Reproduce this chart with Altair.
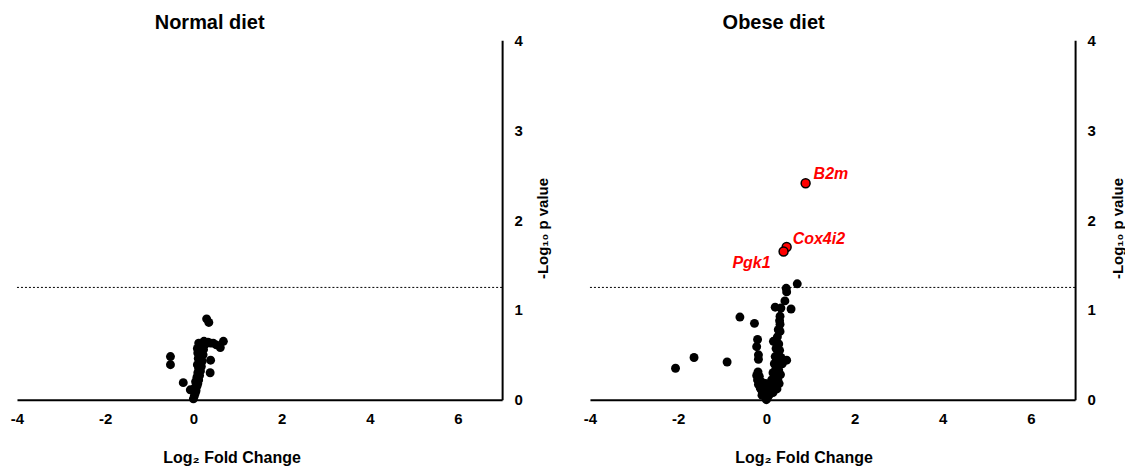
import altair as alt
import pandas as pd

# ---- data ----
normal_x = [0.30, 0.35, 0.39, 0.68, 0.61, -0.52, -0.52, 0.39, -0.23, -0.07, 0.38,
            0.00, 0.02, 0.04, 0.06, 0.03, 0.08, 0.10, 0.05, 0.12, 0.08, 0.14, 0.10,
            0.16, 0.12, 0.18, 0.09, 0.15, 0.20, 0.11, 0.17, 0.22, 0.10, 0.16, 0.23,
            0.09, 0.14, 0.20, 0.27, 0.12, 0.33, 0.45, 0.52, 0.24]
normal_y = [0.90, 0.86, 0.63, 0.65, 0.58, 0.48, 0.39, 0.44, 0.19, 0.11, 0.30,
            0.01, 0.04, 0.07, 0.10, 0.13, 0.15, 0.18, 0.20, 0.22, 0.25, 0.27, 0.30,
            0.32, 0.35, 0.37, 0.39, 0.41, 0.43, 0.46, 0.48, 0.50, 0.52, 0.54, 0.56,
            0.57, 0.59, 0.61, 0.62, 0.63, 0.64, 0.63, 0.61, 0.65]

obese_x = [0.70, 0.45, 0.46, 0.42, 0.20, 0.56, 0.33, 0.31, -0.60, -0.27, 0.31, 0.31,
           -0.20, -0.22, -0.18, -0.18, -2.06, -1.64, -0.89, 0.46,
           0.16, 0.25, 0.28, 0.22, 0.30, 0.27, 0.20, 0.33, 0.24, 0.18, 0.30, 0.36,
           0.22, 0.28, 0.15, 0.32, 0.20, 0.26, 0.12, 0.29, 0.18, 0.24, 0.10, 0.15,
           0.06, 0.02, 0.00, 0.08, 0.27, 0.30,
           -0.03, -0.06, -0.10, -0.14, -0.18, -0.20, -0.22, -0.19, -0.08, -0.12,
           -0.05, -0.16, -0.02, -0.10]
obese_y = [1.29, 1.24, 1.20, 1.10, 1.03, 1.01, 1.02, 0.93, 0.92, 0.85, 0.84, 0.76,
           0.67, 0.59, 0.50, 0.45, 0.35, 0.47, 0.42, 0.44,
           0.65, 0.70, 0.62, 0.57, 0.55, 0.50, 0.48, 0.47, 0.43, 0.40, 0.39, 0.40,
           0.35, 0.33, 0.30, 0.28, 0.25, 0.22, 0.22, 0.18, 0.16, 0.12, 0.12, 0.08,
           0.05, 0.02, 0.00, 0.18, 0.78, 0.88,
           0.04, 0.08, 0.10, 0.13, 0.17, 0.22, 0.27, 0.31, 0.15, 0.20,
           0.12, 0.26, 0.18, 0.05]

sig_genes = ["B2m", "Cox4i2", "Pgk1"]
sig_x = [0.89, 0.46, 0.39]
sig_y = [2.41, 1.70, 1.65]

threshold = [1.25]
x_ticks = [-4, -2, 0, 2, 4, 6]
y_ticks = [0, 1, 2, 3, 4]

FONT = "Liberation Sans"
W, H = 486, 360
HYPHEN_LABEL = "datum.value < 0 ? '-' + abs(datum.value) : '' + datum.value"


def x_enc(tx):
    return alt.X("x:Q",
                 scale=alt.Scale(domain=[-4, 7], nice=False, zero=False),
                 axis=alt.Axis(values=x_ticks, title="Log₂ Fold Change", grid=False,
                               ticks=False, tickSize=0, domainWidth=2, domainColor="black",
                               labelFont=FONT, labelFontSize=15, labelFontWeight="bold",
                               labelColor="black", labelPadding=12, labelFlush=False,
                               labelExpr=HYPHEN_LABEL,
                               titleFont=FONT, titleFontSize=16, titleFontWeight="bold",
                               titleColor="black", titlePadding=23, titleX=tx))


def y_enc(ty):
    return alt.Y("y:Q",
                 scale=alt.Scale(domain=[0, 4], nice=False),
                 axis=alt.Axis(values=y_ticks, orient="right", title="-Log₁₀ p value",
                               grid=False, ticks=False, tickSize=0, domainWidth=2,
                               domainColor="black", labelFont=FONT, labelFontSize=15,
                               labelFontWeight="bold", labelColor="black", labelPadding=12,
                               labelAlign="left", labelFlush=False,
                               titleFont=FONT, titleFontSize=15, titleFontWeight="bold",
                               titleColor="black", titleAngle=270, titleAlign="center",
                               titleBaseline="middle", titleX=ty, titleY=188))


def panel(xs, ys, title, dx, ty, tx, extra=None):
    df = pd.DataFrame({"x": xs, "y": ys})
    rule = alt.Chart(pd.DataFrame({"y": threshold})).mark_rule(
        color="black", strokeWidth=1, strokeDash=[2, 2]).encode(y=y_enc(ty))
    pts = alt.Chart(df).mark_circle(size=80, color="black", opacity=1).encode(
        x=x_enc(tx), y=y_enc(ty))
    layers = [rule, pts]
    if extra:
        layers += extra(ty, tx)
    return alt.layer(*layers).properties(
        width=W, height=H,
        title=alt.TitleParams(title, font=FONT, fontSize=20, fontWeight="bold",
                              color="black", dx=dx, offset=0))


def sig_layers(ty, tx):
    sdf = pd.DataFrame({"x": sig_x, "y": sig_y, "gene": sig_genes})
    red = alt.Chart(sdf).mark_circle(size=80, color="red", stroke="black",
                                      strokeWidth=1.5, opacity=1).encode(
        x=x_enc(tx), y=y_enc(ty))
    out = [red]
    specs = [("B2m", "left", 8, -9), ("Cox4i2", "left", 6, -8), ("Pgk1", "right", -13, 12)]
    for g, al, ddx, ddy in specs:
        out.append(alt.Chart(sdf[sdf.gene == g]).mark_text(
            align=al, baseline="middle", dx=ddx, dy=ddy, font=FONT, fontSize=16,
            fontWeight="bold", fontStyle="italic", color="red").encode(
            x=x_enc(tx), y=y_enc(ty), text="gene:N"))
    return out


left = panel(normal_x, normal_y, "Normal diet", -50, 40, 215)
right = panel(obese_x, obese_y, "Obese diet", -59, 42, 214, sig_layers)

chart = alt.hconcat(left, right, spacing=33).configure_view(stroke=None).properties(
    padding={"left": 2, "top": 5, "right": 0, "bottom": 0}, background="white")

chart.save("out.html", embed_options={"renderer": "svg", "actions": False})
